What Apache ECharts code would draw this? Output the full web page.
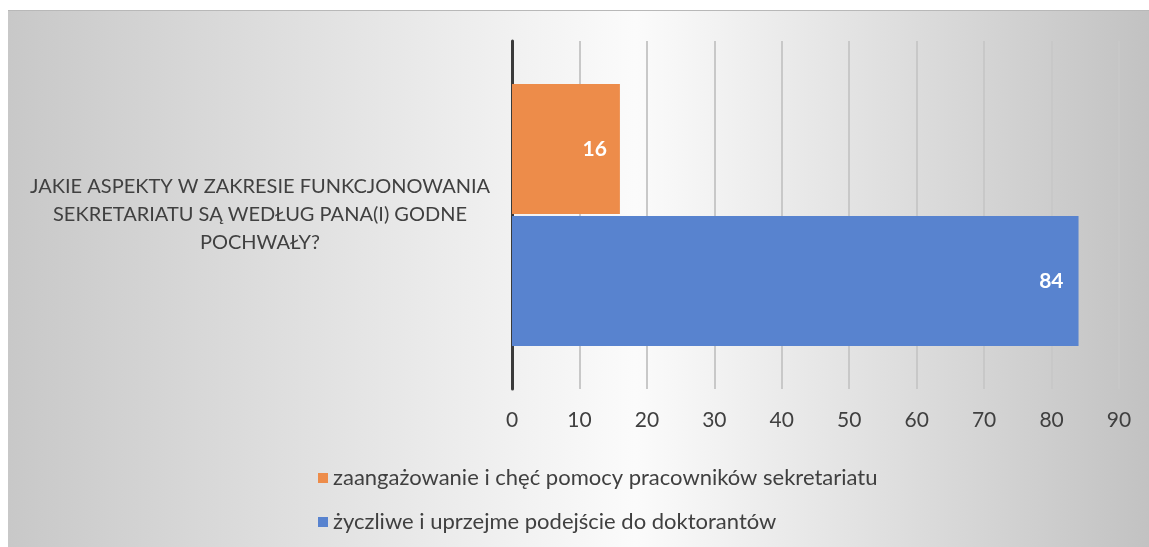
<!DOCTYPE html>
<html>
<head>
<meta charset="utf-8">
<script src="https://cdn.jsdelivr.net/npm/echarts@6/dist/echarts.min.js"></script>
<style>
html,body{margin:0;padding:0;background:#fff;width:1149px;height:547px;overflow:hidden;}
#frame{position:absolute;left:8px;top:10px;width:1141px;height:537px;border-top:1px solid #b8b8b8;box-sizing:border-box;}
#c{position:absolute;left:0;top:0;width:1141px;height:536px;}
</style>
</head>
<body>
<div id="frame"><div id="c"></div></div>
<script>
const categories = ['JAKIE ASPEKTY W ZAKRESIE FUNKCJONOWANIA\nSEKRETARIATU SĄ WEDŁUG PANA(I) GODNE\nPOCHWAŁY?'];
const seriesNames = ['zaangażowanie i chęć pomocy pracowników sekretariatu', 'życzliwe i uprzejme podejście do doktorantów'];
const valuesOrange = [16];
const valuesBlue = [84];
const xTicks = {min: 0, max: 90, interval: 10};

const FONT = 'Lato, "Open Sans", sans-serif';
const chart = echarts.init(document.getElementById('c'));
chart.setOption({
  backgroundColor: {
    type: 'linear', x: 0, y: 0, x2: 1, y2: 0,
    colorStops: [{offset: 0, color: '#c8c8c8'}, {offset: 0.55, color: '#fbfbfb'}, {offset: 1, color: '#c2c2c2'}]
  },
  textStyle: {fontFamily: FONT},
  animation: false,
  grid: {left: 504, right: 30, top: 30, bottom: 158, containLabel: false},
  xAxis: {
    type: 'value', min: xTicks.min, max: xTicks.max, interval: xTicks.interval,
    axisLine: {show: false}, axisTick: {show: false},
    splitLine: {show: true, lineStyle: {color: '#c8c8c8', width: 2}},
    axisLabel: {color: '#404040', fontSize: 21, margin: 21, fontFamily: FONT}
  },
  yAxis: {
    type: 'category', data: categories, inverse: true,
    axisLine: {show: true, lineStyle: {color: '#3a3a3a', width: 3}},
    axisTick: {show: false},
    axisLabel: {color: '#404040', fontSize: 20, align: 'center', margin: 252, lineHeight: 28, fontFamily: FONT}
  },
  legend: {
    orient: 'vertical', left: 305, top: 451, itemGap: 22,
    itemWidth: 10, itemHeight: 10, icon: 'rect',
    textStyle: {color: '#404040', fontSize: 22, fontFamily: FONT},
    data: seriesNames
  },
  series: [
    {name: seriesNames[0], type: 'bar', data: valuesOrange, barWidth: 130, barGap: '1.5%',
     itemStyle: {color: '#ed8c4a'},
     label: {show: true, position: 'insideRight', color: '#fff', fontWeight: 'bold', fontSize: 21, distance: 13, fontFamily: FONT}},
    {name: seriesNames[1], type: 'bar', data: valuesBlue, barWidth: 130,
     itemStyle: {color: '#5883cf'},
     label: {show: true, position: 'insideRight', color: '#fff', fontWeight: 'bold', fontSize: 21, distance: 15, fontFamily: FONT}}
  ]
});
</script>
</body>
</html>
